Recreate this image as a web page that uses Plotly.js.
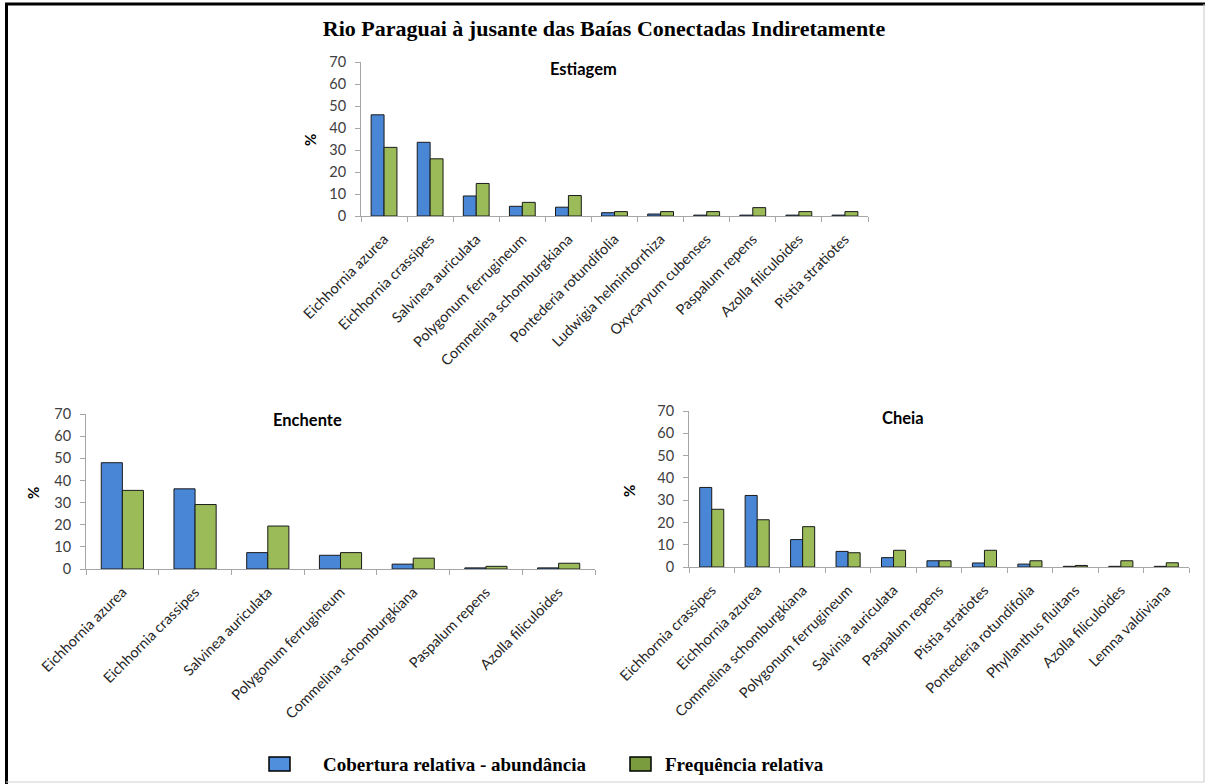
<!DOCTYPE html>
<html>
<head>
<meta charset="utf-8">
<script src="https://cdn.plot.ly/plotly-3.0.1.min.js"></script>
<style>
html,body{margin:0;padding:0;background:#fff;}
#chart{width:1208px;height:784px;}
</style>
</head>
<body>
<div id="chart"></div>
<script>
// ---- data ----
const mainTitle = "Rio Paraguai à jusante das Baías Conectadas Indiretamente";
const seriesNames = ["Cobertura relativa - abundância", "Frequência relativa"];
const panelTitles = ["Estiagem", "Enchente", "Cheia"];

const estCats = ["Eichhornia azurea","Eichhornia crassipes","Salvinea auriculata","Polygonum ferrugineum","Commelina schomburgkiana","Pontederia rotundifolia","Ludwigia helmintorrhiza","Oxycaryum cubenses","Paspalum repens","Azolla filiculoides","Pistia stratiotes"];
const estCob  = [46, 33.5, 9.1, 4.4, 4.0, 1.5, 0.9, 0.4, 0.4, 0.4, 0.4];
const estFreq = [31.2, 26.0, 14.8, 6.2, 9.3, 2.0, 2.0, 2.0, 3.8, 2.0, 2.0];

const encCats = ["Eichhornia azurea","Eichhornia crassipes","Salvinea auriculata","Polygonum ferrugineum","Commelina schomburgkiana","Paspalum repens","Azolla filiculoides"];
const encCob  = [48.0, 36.2, 7.4, 6.2, 2.2, 0.5, 0.5];
const encFreq = [35.5, 29.1, 19.4, 7.4, 4.9, 1.2, 2.6];

const cheCats = ["Eichhornia crassipes","Eichhornia azurea","Commelina schomburgkiana","Polygonum ferrugineum","Salvinia auriculata","Paspalum repens","Pistia stratiotes","Pontederia rotundifolia","Phyllanthus fluitans","Azolla filiculoides","Lemna valdiviana"];
const cheCob  = [35.7, 32.1, 12.3, 7.0, 4.2, 2.8, 1.8, 1.3, 0.3, 0.3, 0.3];
const cheFreq = [25.9, 21.2, 18.1, 6.4, 7.5, 2.8, 7.5, 2.8, 0.7, 2.8, 1.9];

const yTicks = [0, 10, 20, 30, 40, 50, 60, 70];

// ---- styling ----
const W = 1208, H = 784;
const px = v => v / W;
const py = v => 1 - v / H;
const BLUE = "#4A86D6", GREEN = "#9BBB59";
const LEG_BLUE = "#4F8FDB", LEG_GREEN = "#7A9C3E";
const OUT = "#1a1a1a";
const AX = "#a6a6a6";
const lab = "Lato, 'Open Sans', sans-serif";
const serif = "'Liberation Serif', 'Times New Roman', serif";

function bars(cats, vals, name, color, xa, ya, w) {
  return {
    type: "bar", x: cats, y: vals, name: name,
    xaxis: xa, yaxis: ya,
    width: w, offset: name === seriesNames[0] ? -w : 0,
    marker: {color: color, line: {color: OUT, width: 1}},
    showlegend: false, hoverinfo: "x+y"
  };
}

const data = [
  bars(estCats, estCob, seriesNames[0], BLUE, "x", "y", 0.28),
  bars(estCats, estFreq, seriesNames[1], GREEN, "x", "y", 0.28),
  bars(encCats, encCob, seriesNames[0], BLUE, "x2", "y2", 0.29),
  bars(encCats, encFreq, seriesNames[1], GREEN, "x2", "y2", 0.29),
  bars(cheCats, cheCob, seriesNames[0], BLUE, "x3", "y3", 0.265),
  bars(cheCats, cheFreq, seriesNames[1], GREEN, "x3", "y3", 0.265)
];

function xax(dom, anchor) {
  return {
    domain: dom, anchor: anchor, type: "category",
    showline: true, linecolor: AX, linewidth: 1,
    ticks: "outside", ticklen: 5, tickcolor: AX, tickson: "boundaries",
    ticklabelstandoff: 8,
    tickangle: -45, tickfont: {family: lab, size: 14.5, color: "#262626"},
    showgrid: false, zeroline: false, fixedrange: true
  };
}
function yax(dom, anchor) {
  return {
    domain: dom, anchor: anchor, range: [0, 70],
    tickvals: yTicks, ticktext: yTicks.map(String),
    showline: true, linecolor: AX, linewidth: 1,
    ticks: "outside", ticklen: 5, tickcolor: AX, ticklabelstandoff: 6,
    tickfont: {family: lab, size: 14.5, color: "#404040"},
    showgrid: false, zeroline: false, fixedrange: true
  };
}

function legBox(x0, color) {
  return {type: "rect", xref: "paper", yref: "paper",
          x0: px(x0), x1: px(x0 + 21), y0: py(771), y1: py(757),
          fillcolor: color, line: {color: "#000", width: 1.5}};
}
function legText(x, t) {
  return {text: t, x: px(x), y: py(764), xref: "paper", yref: "paper", xanchor: "left", yanchor: "middle",
          showarrow: false, font: {family: serif, size: 19, color: "#000", weight: "bold"}};
}
function panelTitle(t, x, y) {
  return {text: t, x: px(x), y: py(y), xref: "paper", yref: "paper", showarrow: false,
          xanchor: "center", yanchor: "middle",
          font: {family: lab, size: 16.5, color: "#000", weight: "bold"}};
}
function pct(x, y) {
  return {text: "%", x: px(x), y: py(y), xref: "paper", yref: "paper", showarrow: false, textangle: -90,
          xanchor: "center", yanchor: "middle",
          font: {family: lab, size: 15, color: "#000", weight: "bold"}};
}

const layout = {
  width: W, height: H,
  margin: {l: 0, r: 0, t: 0, b: 0},
  paper_bgcolor: "#fff", plot_bgcolor: "rgba(0,0,0,0)",
  barmode: "overlay", showlegend: false,
  title: {text: mainTitle, x: px(604), xanchor: "center", y: py(28), yanchor: "middle",
          font: {family: serif, size: 22, color: "#000", weight: "bold"}},
  xaxis: xax([px(361), px(868)], "y"),
  yaxis: yax([py(216), py(62)], "x"),
  xaxis2: xax([px(86), px(595)], "y2"),
  yaxis2: yax([py(569), py(414)], "x2"),
  xaxis3: xax([px(689), px(1189)], "y3"),
  yaxis3: yax([py(567), py(411)], "x3"),
  annotations: [
    panelTitle(panelTitles[0], 583, 69),
    panelTitle(panelTitles[1], 307, 420),
    panelTitle(panelTitles[2], 903, 418),
    pct(310, 140), pct(33, 493), pct(629, 491),
    legText(321, seriesNames[0]),
    legText(663, seriesNames[1])
  ],
  shapes: [
    legBox(269, LEG_BLUE),
    legBox(630, LEG_GREEN),
    {type: "line", xref: "paper", yref: "paper", x0: px(6.5), x1: px(6.5), y0: py(3), y1: py(784), line: {color: "#000", width: 3}},
    {type: "line", xref: "paper", yref: "paper", x0: px(5), x1: px(1205), y0: py(4), y1: py(4), line: {color: "#000", width: 3}},
    {type: "line", xref: "paper", yref: "paper", x0: px(1204), x1: px(1204), y0: py(4), y1: py(782), line: {color: "#c8c8c8", width: 1}},
    {type: "line", xref: "paper", yref: "paper", x0: px(6), x1: px(1204), y0: py(782), y1: py(782), line: {color: "#d0d0d0", width: 1}}
  ]
};

Plotly.newPlot("chart", data, layout, {displayModeBar: false, staticPlot: true});
</script>
</body>
</html>
